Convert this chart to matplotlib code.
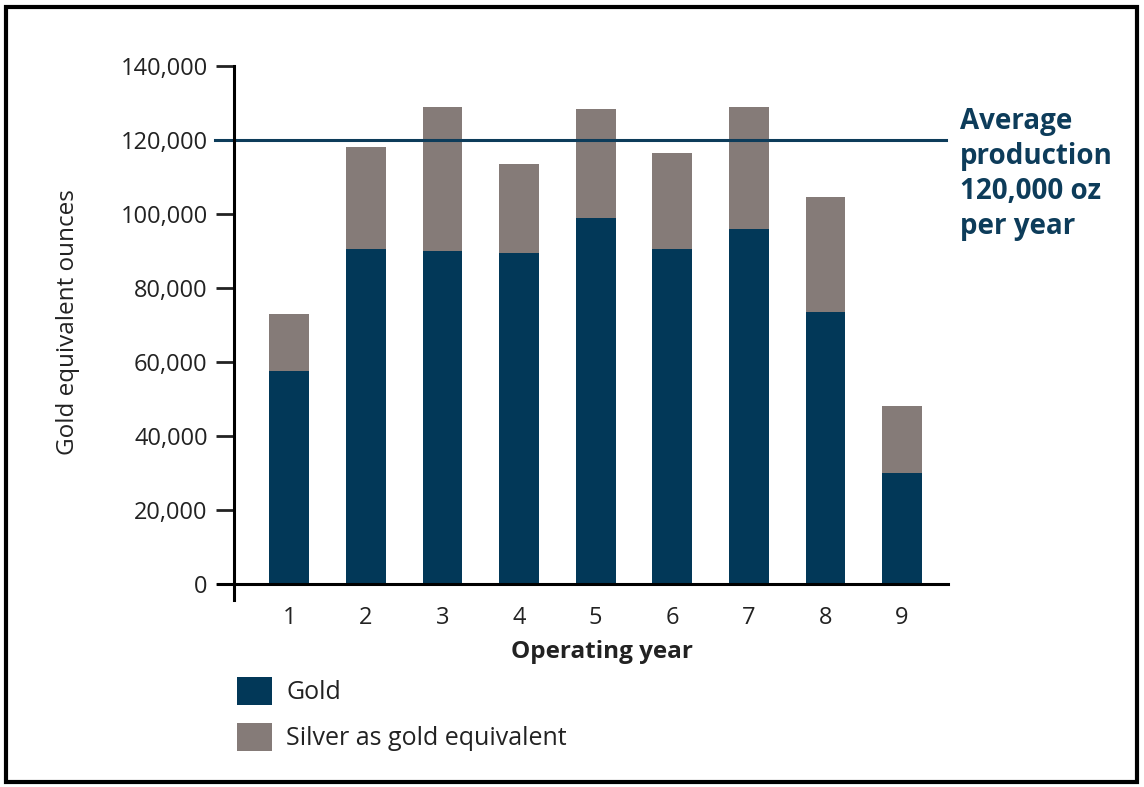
import matplotlib
matplotlib.use('Agg')
import matplotlib.pyplot as plt
from matplotlib.patches import Rectangle
from matplotlib.ticker import FuncFormatter

# values
years = [1, 2, 3, 4, 5, 6, 7, 8, 9]
gold = [57500, 90500, 90000, 89500, 99000, 90500, 96000, 73500, 30000]
total = [73000, 118000, 129000, 113500, 128500, 116500, 129000, 104500, 48000]
silver = [t - g for t, g in zip(total, gold)]
average = 120000

gold_col = '#023858'
silver_col = '#857b78'
text_col = '#222222'

plt.rcParams['font.family'] = ['Open Sans', 'DejaVu Sans']

fig = plt.figure(figsize=(11.44, 7.87), dpi=100)
ax = fig.add_axes([218/1144, 1-600/787, (948-218)/1144, (600-66)/787])

b1 = ax.bar(years, gold, width=0.52, color=gold_col, label='Gold')
b2 = ax.bar(years, silver, bottom=gold, width=0.52, color=silver_col,
            label='Silver as gold equivalent')

ax.set_xlim(0.07, 9.6)
ax.set_ylim(-4300, 140000)
ax.axhline(average, xmin=-0.004, xmax=0.997, color='#0d3c5a', lw=2.2, clip_on=False)

for s in ['top', 'right']:
    ax.spines[s].set_visible(False)
ax.spines['bottom'].set_position(('data', 0))
ax.spines['left'].set_position(('data', 0.28))
ax.spines['left'].set_bounds(-4300, 140000)
for s in ['bottom', 'left']:
    ax.spines[s].set_linewidth(2.2)

ax.set_yticks(range(0, 140001, 20000))
ax.yaxis.set_major_formatter(FuncFormatter(lambda v, p: f'{int(v):,}'))
ax.set_xticks(years)
ax.tick_params(axis='y', length=13, width=2, labelsize=17, colors=text_col, pad=6)
ax.tick_params(axis='x', length=0, labelsize=17, colors=text_col, pad=16)

ax.set_ylabel('Gold equivalent ounces', fontsize=17.5, color=text_col)
ax.yaxis.set_label_coords(-0.189, 0.52)
ax.set_xlabel('Operating year', fontsize=17.5, fontweight='bold', color=text_col)
ax.xaxis.set_label_coords(0.526, -0.075)

fig.text(960/1144, 1-107/787, 'Average\nproduction\n120,000 oz\nper year',
         fontsize=20, fontweight='bold', color='#0d3c5a', va='top', ha='left',
         linespacing=1.28)

fig.legend(handles=[b1, b2], loc='upper left', bbox_to_anchor=(214/1144, 1-654/787),
           frameon=False, fontsize=18, handlelength=1.4, handleheight=1.35,
           labelspacing=0.72, handletextpad=0.6, labelcolor=text_col)

fig.patches.append(Rectangle((6/1144, 5/787), 1131/1144, 775/787, transform=fig.transFigure,
                             fill=False, edgecolor='black', lw=3))

fig.savefig('out.png', dpi=100)
